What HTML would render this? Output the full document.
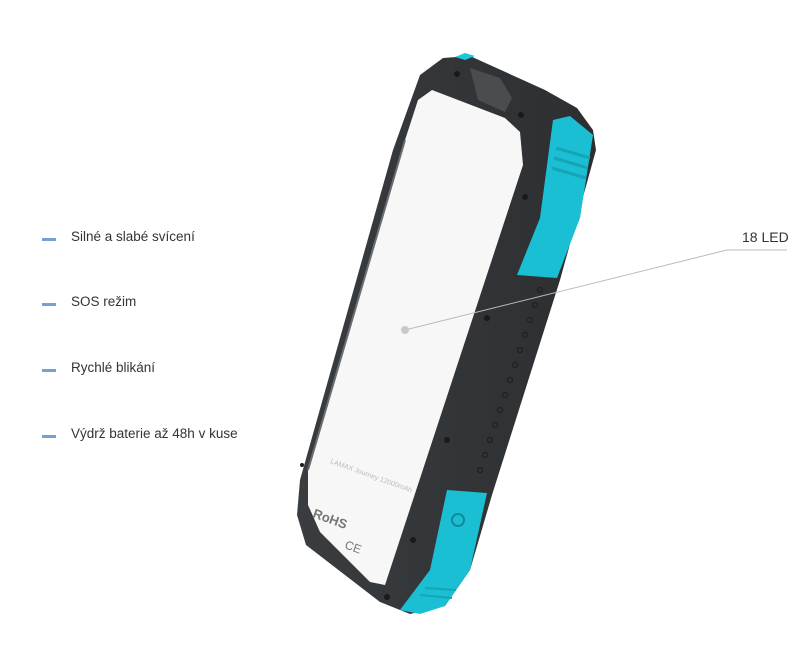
<!DOCTYPE html>
<html><head><meta charset="utf-8"><style>
body{margin:0;background:#fff;width:809px;height:652px;overflow:hidden;font-family:"Liberation Sans",sans-serif}
.l{position:absolute;left:71px;font-size:13.5px;color:#333}
.d{position:absolute;left:42px;width:14px;height:3px;background:#6fa3d6}
</style></head><body>
<div class="d" style="top:238px"></div><div class="l" style="top:229px">Silné a slabé svícení</div>
<div class="d" style="top:303px"></div><div class="l" style="top:294px">SOS režim</div>
<div class="d" style="top:369px"></div><div class="l" style="top:360px">Rychlé blikání</div>
<div class="d" style="top:435px"></div><div class="l" style="top:426px">Výdrž baterie až 48h v kuse</div>
<div style="position:absolute;left:742px;top:229px;font-size:14px;color:#333">18 LED</div>
<svg width="809" height="652" style="position:absolute;left:0;top:0">
<defs><linearGradient id="g" x1="0" x2="1"><stop offset="0" stop-color="#3a3d40"/><stop offset="1" stop-color="#2c2e30"/></linearGradient></defs>
<path d="M443,58 L470,56 L545,90 L577,108 L593,130 L596,150 L560,280 L492,495 L470,570 L445,606 L410,614 L380,602 L306,545 L297,515 L300,480 L393,150 L420,75 Z" fill="url(#g)"/>
<path d="M455,57 L465,53 L475,56 L465,60 Z" fill="#1fc6d8"/>
<path d="M418,100 L432,90 L505,118 L520,132 L523,165 L385,585 L370,582 L320,532 L308,505 L308,470 L405,140 Z" fill="#f7f7f7"/>
<path d="M405,140 L308,470" stroke="#6a6d70" stroke-width="2"/>
<path d="M470,68 L500,78 L512,98 L505,112 L478,100 Z" fill="#4a4d50"/>
<path d="M553,120 L570,116 L593,135 L580,218 L557,278 L517,275 L540,218 Z" fill="#1bbfd3"/>
<path d="M556,148 L590,158 M554,158 L588,168 M552,168 L586,178" stroke="#16a5b7" stroke-width="3"/>
<path d="M447,490 L487,493 L470,570 L445,606 L420,614 L400,610 L430,570 Z" fill="#1bbfd3"/>
<path d="M420,595 L452,598 M425,588 L456,590" stroke="#16a5b7" stroke-width="2"/>
<circle cx="458" cy="520" r="6" fill="none" stroke="#0f8a99" stroke-width="2"/>
<g fill="none" stroke="#1e2022" stroke-width="1.2">
<circle cx="540" cy="290" r="2.5"/><circle cx="535" cy="305" r="2.5"/><circle cx="530" cy="320" r="2.5"/><circle cx="525" cy="335" r="2.5"/><circle cx="520" cy="350" r="2.5"/><circle cx="515" cy="365" r="2.5"/><circle cx="510" cy="380" r="2.5"/><circle cx="505" cy="395" r="2.5"/><circle cx="500" cy="410" r="2.5"/><circle cx="495" cy="425" r="2.5"/><circle cx="490" cy="440" r="2.5"/><circle cx="485" cy="455" r="2.5"/><circle cx="480" cy="470" r="2.5"/></g>
<g fill="#1a1a1a"><circle cx="457" cy="74" r="3"/><circle cx="521" cy="115" r="3"/><circle cx="525" cy="197" r="3"/><circle cx="487" cy="318" r="3"/><circle cx="447" cy="440" r="3"/><circle cx="413" cy="540" r="3"/><circle cx="387" cy="597" r="3"/><circle cx="302" cy="465" r="2"/></g>
<text x="312" y="517" font-size="13" font-weight="bold" fill="#777" transform="rotate(20 312 517)">RoHS</text>
<text x="344" y="548" font-size="12" fill="#777" transform="rotate(20 344 548)">CE</text>
<text x="330" y="463" font-size="7" fill="#bbb" transform="rotate(20 330 463)">LAMAX Journey 12000mAh</text>
<line x1="405" y1="330" x2="727" y2="250" stroke="#bbb" stroke-width="1"/>
<line x1="727" y1="250" x2="787" y2="250" stroke="#bbb" stroke-width="1"/>
<circle cx="405" cy="330" r="4" fill="#c8c8c8"/>
</svg>
</body></html>
